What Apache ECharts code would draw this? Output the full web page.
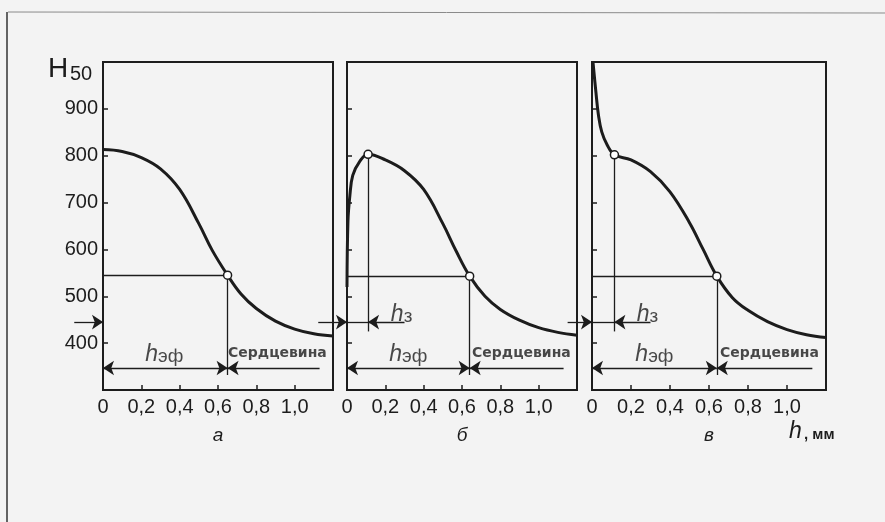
<!DOCTYPE html>
<html>
<head>
<meta charset="utf-8">
<script src="https://cdn.jsdelivr.net/npm/echarts@6/dist/echarts.min.js"></script>
<style>
  html, body { margin: 0; background: #f3f3f3; }
  #chart { width: 885px; height: 522px; }
</style>
</head>
<body>
<div id="chart"></div>
<script>
const depthA = [0, 0.1, 0.2, 0.3, 0.4, 0.5, 0.57, 0.65, 0.72, 0.8, 0.9, 1.0, 1.1, 1.2]
const hardA = [813, 809, 796, 772, 728, 655, 598, 545, 505, 474, 447, 430, 420, 415]

const depthB = [0, 0.005, 0.015, 0.03, 0.065, 0.11, 0.2, 0.3, 0.4, 0.5, 0.57, 0.64, 0.72, 0.8, 0.9, 1.0, 1.1, 1.2]
const hardB = [520, 660, 715, 758, 787, 803, 791, 768, 728, 655, 596, 543, 500, 472, 449, 433, 423, 417]

const depthC = [0.005, 0.02, 0.033, 0.05, 0.078, 0.115, 0.2, 0.3, 0.4, 0.5, 0.57, 0.64, 0.72, 0.8, 0.9, 1.0, 1.1, 1.2]
const hardC = [1000, 936, 887, 851, 823, 802, 791, 766, 723, 657, 600, 543, 497, 470, 446, 429, 418, 412]

const panelNames = ['а', 'б', 'в']
const yTicks = [400, 500, 600, 700, 800, 900]
const xTickLabels = ['0', '0,2', '0,4', '0,6', '0,8', '1,0']

// точка эффективной глубины (кружок) на каждой кривой
const effDepth = [0.65, 0.64, 0.64]
const effHard = [545, 543, 543]
// максимум твёрдости (h_з), только для б и в
const layerDepth = [null, 0.11, 0.115]
const layerHard = [null, 803, 802]
const coreEnd = 1.13

const curves = [[depthA, hardA], [depthB, hardB], [depthC, hardC]]

const ink = '#1c1c1c'
const font = 'Liberation Sans'
const gridLeft = [103, 347, 592]
const gridWidth = [230, 230, 234]

const grids = [], xAxes = [], yAxes = [], series = []

curves.forEach(([xs, ys], i) => {
    grids.push({
        left: gridLeft[i], top: 62, width: gridWidth[i], height: 328,
        show: true, borderColor: ink, borderWidth: 2, backgroundColor: 'transparent',
        outerBoundsMode: 'none'
    })
    xAxes.push({
        gridIndex: i, type: 'value', min: 0, max: 1.2, interval: 0.2,
        axisLine: { show: false },
        axisTick: { inside: true, length: 5, lineStyle: { color: ink, width: 1.5 } },
        splitLine: { show: false },
        axisLabel: {
            color: ink, fontSize: 20, fontFamily: font, margin: 7,
            formatter: v => xTickLabels[Math.round(v / 0.2)] || ''
        },
        name: panelNames[i], nameLocation: 'middle', nameGap: 36,
        nameTextStyle: { color: ink, fontSize: 19, fontStyle: 'italic', fontFamily: font }
    })
    yAxes.push({
        gridIndex: i, type: 'value', min: 300, max: 1000, interval: 100,
        axisLine: { show: false },
        axisTick: { inside: true, length: 5, lineStyle: { color: ink, width: 1.5 } },
        splitLine: { show: false },
        axisLabel: {
            show: i === 0, color: ink, fontSize: 20, fontFamily: font, margin: 5,
            formatter: v => yTicks.includes(v) ? String(v) : ''
        }
    })

    // кривая твёрдости
    series.push({
        type: 'line', xAxisIndex: i, yAxisIndex: i,
        data: xs.map((x, k) => [x, ys[k]]),
        smooth: 0.4, showSymbol: false, silent: true,
        lineStyle: { color: ink, width: 3 }
    })

    // тонкие выносные линии
    const thin = [
        { coords: [[0, effHard[i]], [effDepth[i], effHard[i]]] },
        { coords: [[effDepth[i], effHard[i]], [effDepth[i], 332]] }
    ]
    if (layerDepth[i] !== null) {
        thin.push({ coords: [[layerDepth[i], layerHard[i]], [layerDepth[i], 425]] })
        thin.push({ coords: [[0, 445], [layerDepth[i], 445]] })
    }
    series.push({
        type: 'lines', coordinateSystem: 'cartesian2d', xAxisIndex: i, yAxisIndex: i,
        clip: false, silent: true, symbol: 'none',
        lineStyle: { color: ink, width: 1.3, opacity: 1 },
        data: thin
    })

    // размерные стрелки
    series.push({
        type: 'lines', coordinateSystem: 'cartesian2d', xAxisIndex: i, yAxisIndex: i,
        clip: false, silent: true, symbol: ['arrow', 'arrow'], symbolSize: 11,
        lineStyle: { color: ink, width: 1.3, opacity: 1 },
        data: [{ coords: [[0, 347], [effDepth[i], 347]] }]
    })
    const single = [
        { coords: [[coreEnd, 347], [effDepth[i], 347]] },
        { coords: [[i === 2 ? -0.125 : -0.15, 445], [0, 445]] }
    ]
    if (layerDepth[i] !== null) {
        single.push({ coords: [[0.3, 445], [layerDepth[i], 445]] })
    }
    series.push({
        type: 'lines', coordinateSystem: 'cartesian2d', xAxisIndex: i, yAxisIndex: i,
        clip: false, silent: true, symbol: ['none', 'arrow'], symbolSize: 11,
        lineStyle: { color: ink, width: 1.3, opacity: 1 },
        data: single
    })

    // кружки на кривой
    const rings = [[effDepth[i], effHard[i]]]
    if (layerDepth[i] !== null) rings.push([layerDepth[i], layerHard[i]])
    series.push({
        type: 'scatter', xAxisIndex: i, yAxisIndex: i, silent: true, z: 5,
        symbol: 'circle', symbolSize: 8,
        itemStyle: { color: '#ffffff', borderColor: ink, borderWidth: 1.5, opacity: 1 },
        data: rings
    })

    // подписи
    const notes = [
        { value: [0.32, 376], label: { formatter: '{i|h}{s|эф}' } },
        { value: [0.91, 379], label: { formatter: '{c|Сердцевина}' } }
    ]
    if (layerDepth[i] !== null) {
        notes.push({ value: [0.285, 461], label: { formatter: '{i|h}{s|з}' } })
    }
    series.push({
        type: 'scatter', xAxisIndex: i, yAxisIndex: i, silent: true, z: 6,
        symbolSize: 1, itemStyle: { color: 'transparent' },
        label: {
            show: true, position: 'inside',
            rich: {
                i: { fontSize: 23, fontStyle: 'italic', fontFamily: font, color: ink, verticalAlign: 'bottom', lineHeight: 24 },
                s: { fontSize: 19, fontFamily: font, color: ink, verticalAlign: 'bottom', lineHeight: 22 },
                c: { fontSize: 14, fontWeight: 'bold', fontFamily: 'DejaVu Sans', color: ink }
            }
        },
        data: notes
    })
})

const chart = echarts.init(document.getElementById('chart'))
chart.setOption({
    backgroundColor: '#f3f3f3',
    animation: false,
    title: [
        { text: 'H', left: 48, top: 55, padding: 0, textStyle: { fontSize: 28, fontWeight: 'normal', fontFamily: font, color: ink } },
        { text: '50', left: 70, top: 64, padding: 0, textStyle: { fontSize: 20, fontWeight: 'normal', fontFamily: font, color: ink } },
        { text: 'h', left: 789, top: 420, padding: 0, textStyle: { fontSize: 23, fontStyle: 'italic', fontWeight: 'normal', fontFamily: font, color: ink } },
        { text: ', мм', left: 804, top: 427, padding: 0, textStyle: { fontSize: 15, fontWeight: 'bold', fontFamily: font, color: ink } }
    ],
    graphic: [
        { type: 'line', shape: { x1: 8, y1: 12, x2: 885, y2: 13 }, style: { stroke: '#8a8a8a', lineWidth: 1 } },
        { type: 'line', shape: { x1: 7, y1: 12, x2: 7, y2: 522 }, style: { stroke: '#333', lineWidth: 1.5 } }
    ],
    grid: grids,
    xAxis: xAxes,
    yAxis: yAxes,
    series: series
})
</script>
</body>
</html>
